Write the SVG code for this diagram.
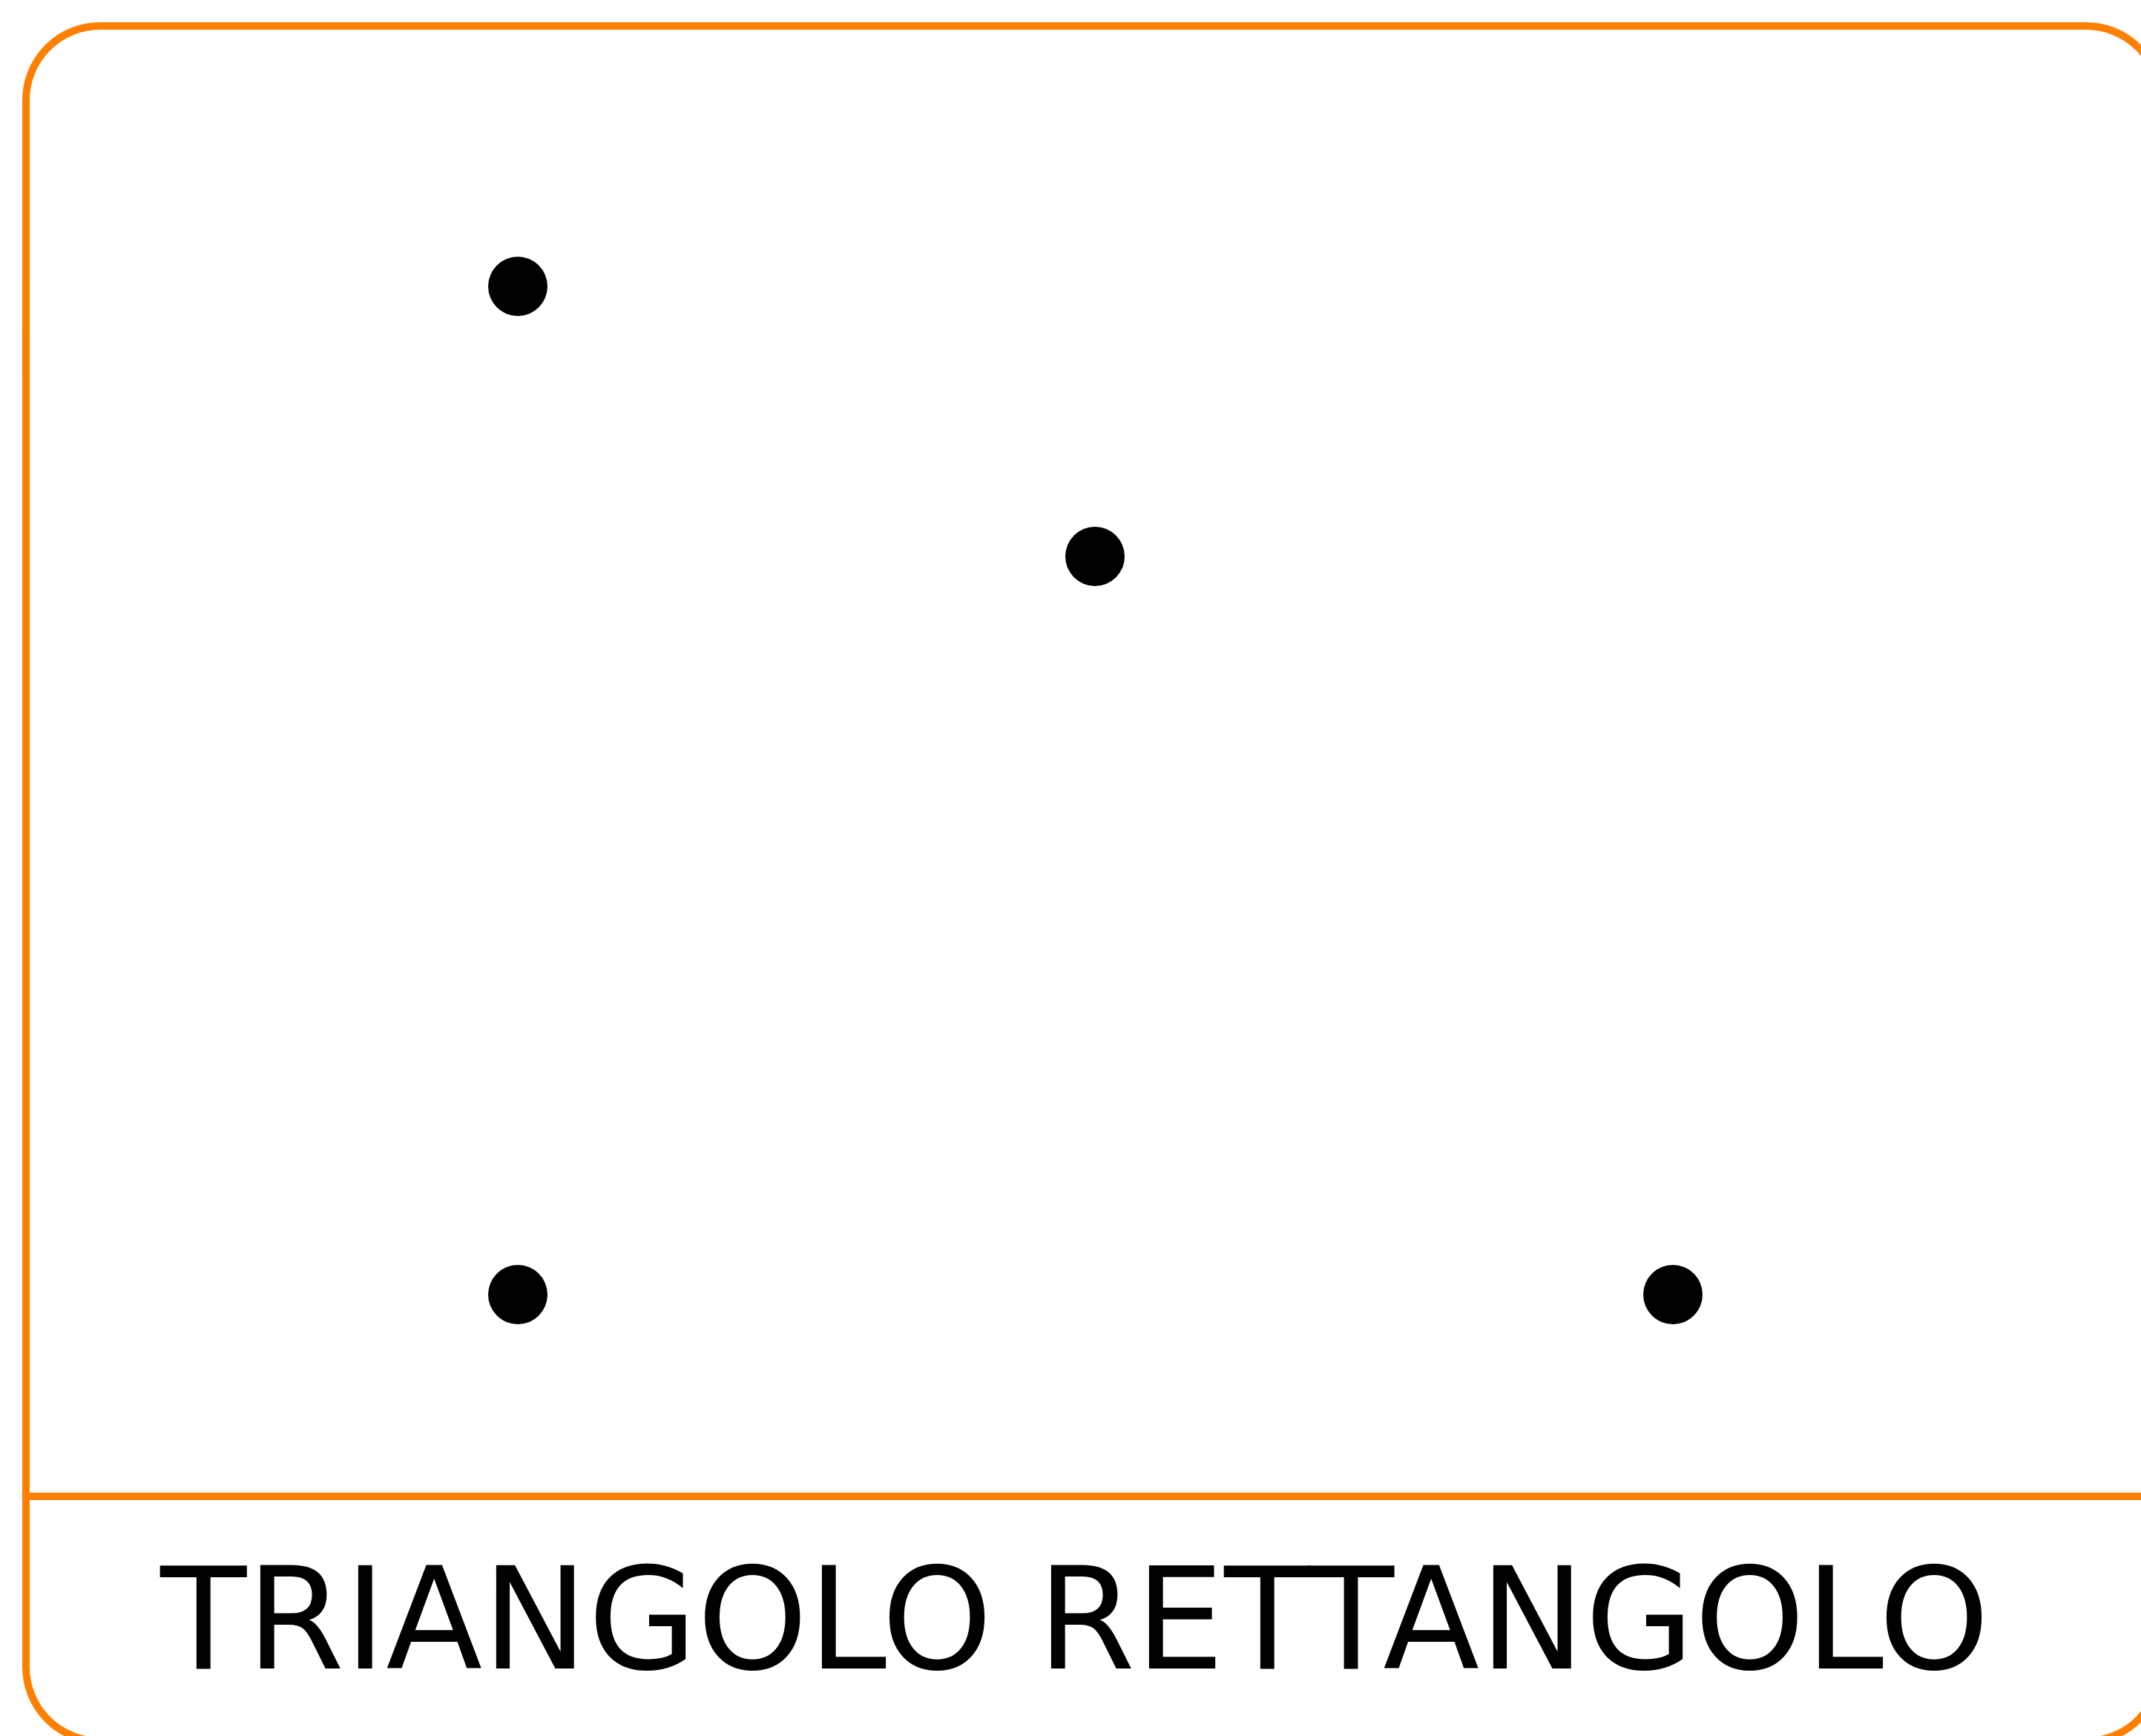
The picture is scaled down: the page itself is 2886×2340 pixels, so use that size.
<svg xmlns="http://www.w3.org/2000/svg" width="2886" height="2340" viewBox="0 0 2886 2340">
  <style>
    .frame { fill: none; stroke: #FF7F00; stroke-width: 10; }
    .dot { fill: #000000; }
    .label { font-family: "DejaVu Sans", Verdana, sans-serif; font-size: 190px; fill: #000000; text-anchor: middle; }
  </style>
  <rect width="2886" height="2340" fill="#FFFFFF"/>
  <g id="frame">
    <rect class="frame" x="35" y="35" width="2877" height="2312" rx="100" ry="100"/>
    <line class="frame" x1="35" y1="2017" x2="2912" y2="2017"/>
    <text class="label" x="1449" y="2249">TRIANGOLO RETTANGOLO</text>
  </g>
  <g id="connectors"></g>
  <g id="point-1"><circle class="dot" cx="698" cy="386" r="40"/></g>
  <g id="point-2"><circle class="dot" cx="1476" cy="750" r="40"/></g>
  <g id="point-3"><circle class="dot" cx="698" cy="1745" r="40"/></g>
  <g id="point-4"><circle class="dot" cx="2255" cy="1745" r="40"/></g>
</svg>
